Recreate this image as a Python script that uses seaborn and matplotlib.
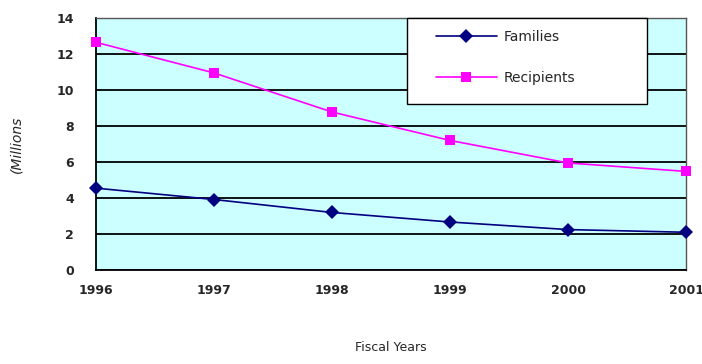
import pandas as pd
import matplotlib
matplotlib.use("Agg")
import matplotlib.pyplot as plt
import seaborn as sns
from matplotlib.patches import Rectangle

# Values (millions)
years = [1996, 1997, 1998, 1999, 2000, 2001]
families = [4.55, 3.92, 3.2, 2.67, 2.25, 2.1]
recipients = [12.65, 10.95, 8.78, 7.2, 5.95, 5.48]
y_ticks = [0, 2, 4, 6, 8, 10, 12, 14]

df = pd.DataFrame({
    "Year": years * 2,
    "Value": families + recipients,
    "Series": ["Families"] * len(years) + ["Recipients"] * len(years),
})

sns.set_style("white")
plt.rcParams["font.family"] = ["DejaVu Sans"]

fig = plt.figure(figsize=(7.02, 3.64), dpi=100)
ax = fig.add_axes([0.1368, 0.258, 0.8405, 0.6925])
ax.set_facecolor("#CCFFFF")

sns.lineplot(data=df, x="Year", y="Value", hue="Series", style="Series",
             palette={"Families": "#000080", "Recipients": "#FF00FF"},
             markers={"Families": "D", "Recipients": "s"},
             dashes=False, markersize=7, markeredgewidth=0, linewidth=1.2,
             ax=ax, clip_on=False, zorder=3)

ax.set_xlim(1996, 2001)
ax.set_ylim(0, 14)
ax.set_xticks(years)
ax.set_yticks(y_ticks)
ax.tick_params(axis="both", labelsize=9, width=1, color="black",
               direction="out")
ax.tick_params(axis="x", length=5, pad=5)
ax.tick_params(axis="y", length=6, pad=10)
for lbl in ax.get_xticklabels() + ax.get_yticklabels():
    lbl.set_fontweight("bold")

ax.yaxis.grid(True, color="black", linewidth=1.3)
ax.set_axisbelow(True)
for side in ["left", "bottom"]:
    ax.spines[side].set_color("black")
    ax.spines[side].set_linewidth(1.3)
for side in ["top", "right"]:
    ax.spines[side].set_color("#555555")
    ax.spines[side].set_linewidth(1.0)

ax.set_xlabel("Fiscal Years", fontsize=9, labelpad=32)
ax.set_ylabel("(Millions", fontsize=10, style="italic", labelpad=24)

# legend box drawn as a white rectangle, entries placed inside it
ax.add_patch(Rectangle((0.527, 0.659), 0.407, 0.341, transform=ax.transAxes,
                       facecolor="white", edgecolor="black", linewidth=1.0,
                       clip_on=False, zorder=5))
leg = ax.legend(loc="upper left", bbox_to_anchor=(0.576, 0.952),
                frameon=False, fontsize=10, handlelength=4.4,
                labelspacing=1.9, borderpad=0, borderaxespad=0,
                handletextpad=0.5)
leg.set_zorder(6)

fig.savefig("out.png", dpi=100)
